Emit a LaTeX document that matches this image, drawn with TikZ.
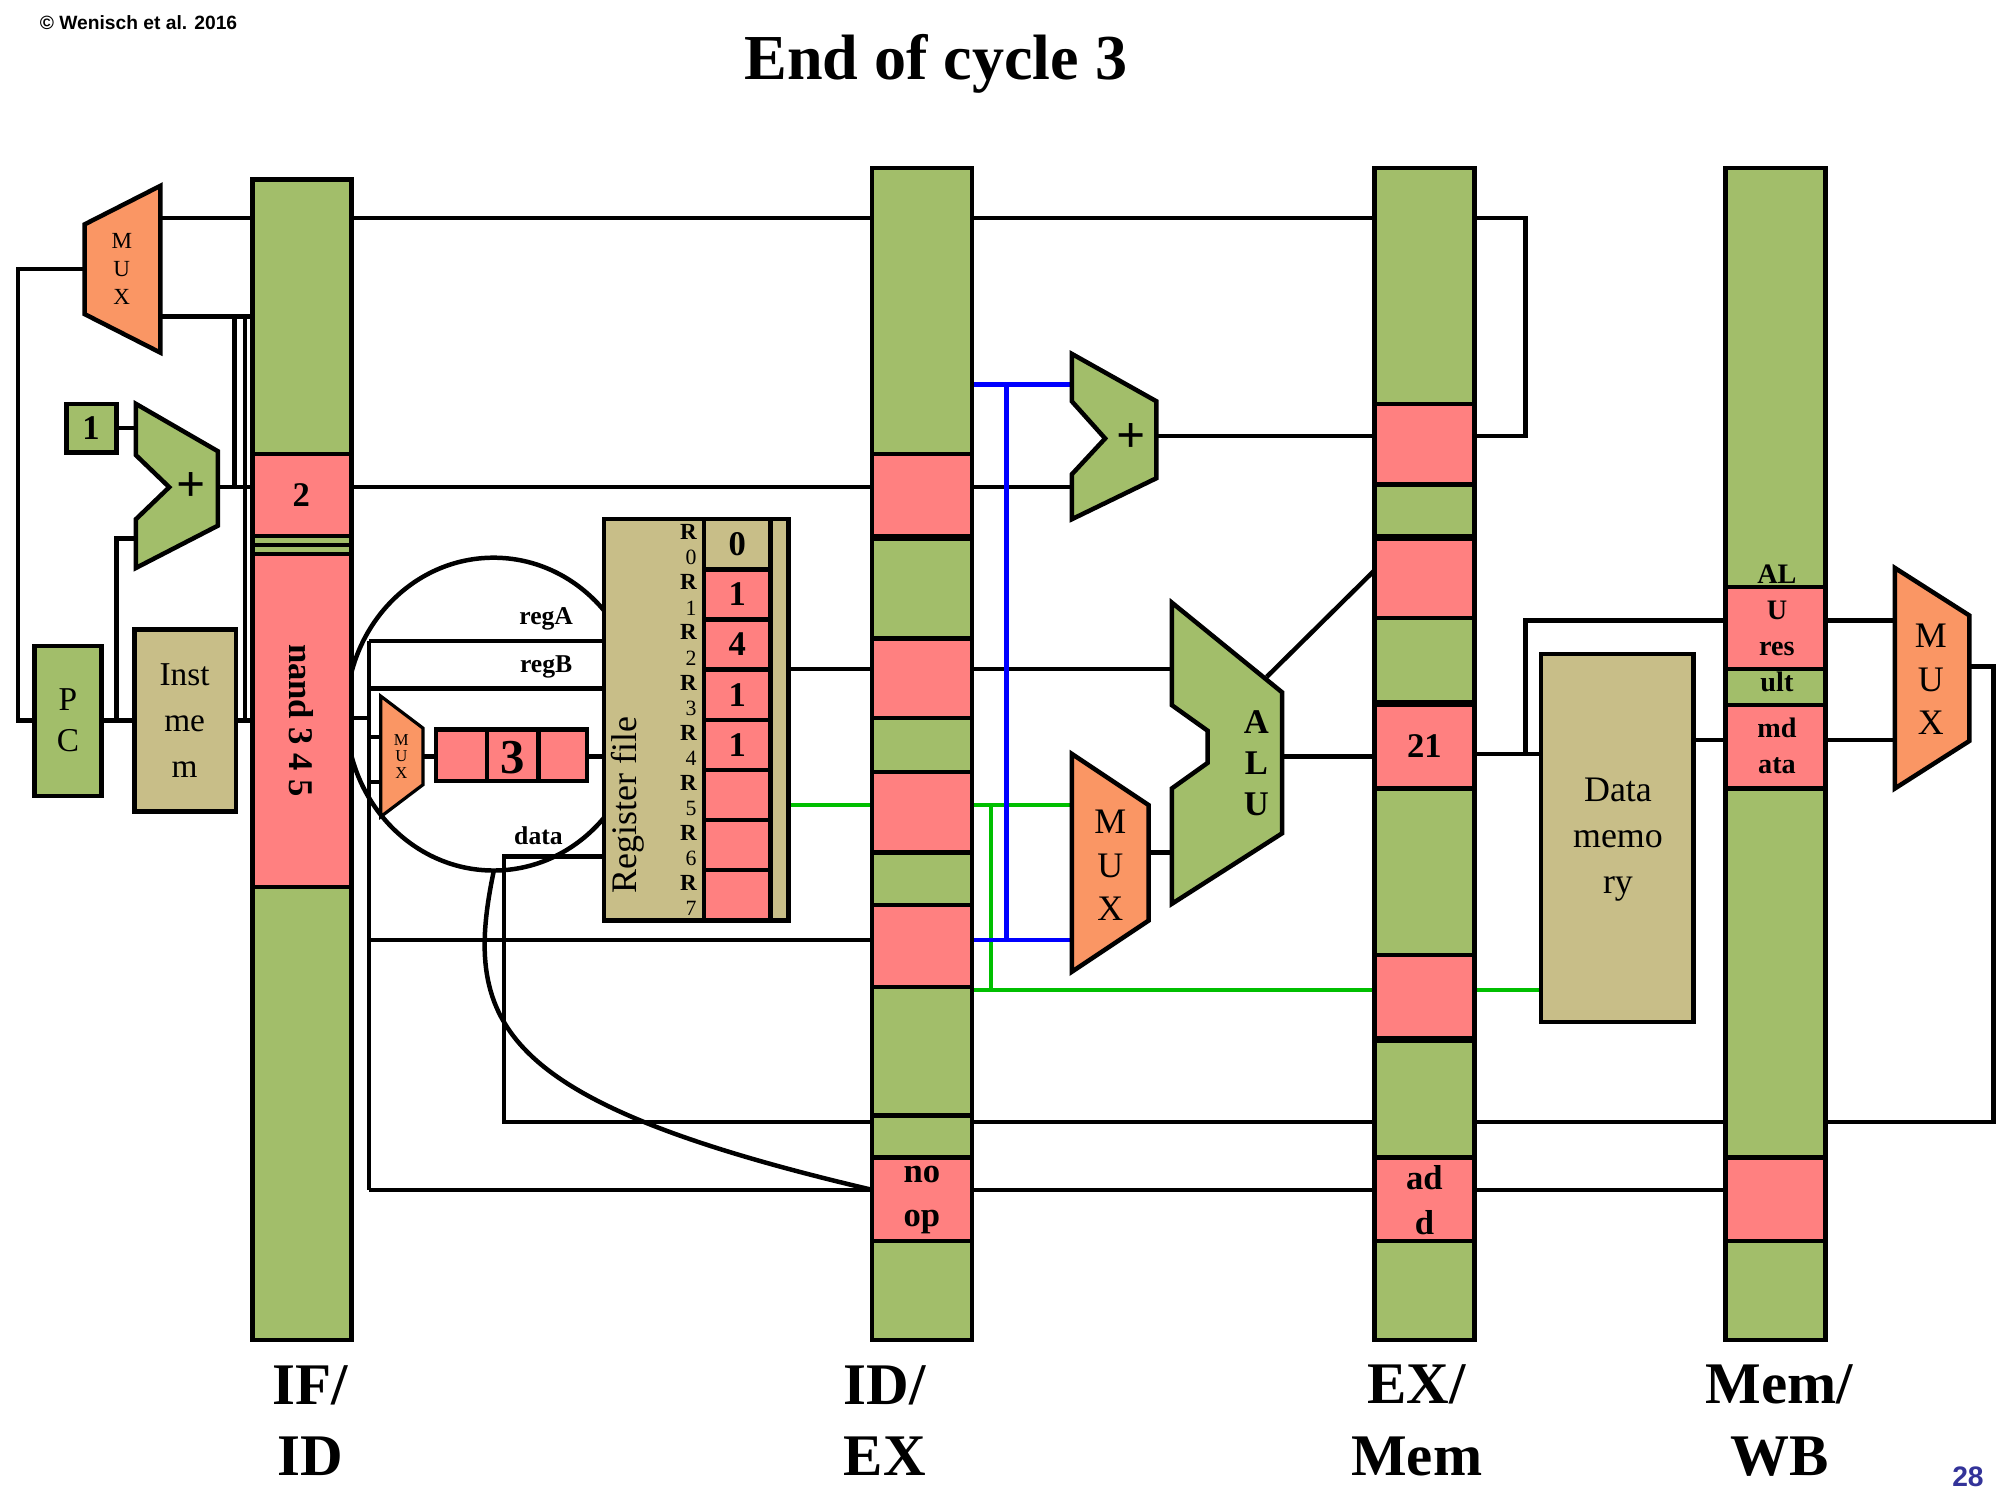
\documentclass[tikz,border=0pt]{standalone}
\usepackage{fontspec}
\setmainfont{Liberation Serif}
\newfontfamily\sans{Liberation Sans}
\begin{document}
\begin{tikzpicture}[x=1pt,y=-1pt,line width=3.5pt,
  lbl/.style={font=\fontsize{46}{50}\selectfont\bfseries,align=center},
  cell/.style={font=\fontsize{27}{29}\selectfont\bfseries,align=center},
  gw/.style={draw=green!75!black},
  bw/.style={draw=blue}]
\definecolor{grn}{RGB}{162,190,106}
\definecolor{pnk}{RGB}{255,128,128}
\definecolor{tan}{RGB}{200,190,136}
\definecolor{org}{RGB}{250,150,100}
\tikzset{gr/.style={fill=grn,draw=black},pk/.style={fill=pnk,draw=black},tn/.style={fill=tan,draw=black},og/.style={fill=org,draw=black}}
\useasboundingbox (0,0) rectangle (1560,1170);
\node[font=\sans\bfseries\fontsize{15}{16}\selectfont,anchor=west] at (26,18) {© Wenisch et al. 2016};
\node[font=\fontsize{50}{54}\selectfont\bfseries] at (730,50) {End of cycle 3};
\node[font=\sans\bfseries\fontsize{22}{24}\selectfont,text=blue!50!black!80] at (1535,1152) {28};
% wires (drawn first)
\draw (125,170) -- (1190,170) -- (1190,340) -- (1150,340);
\draw (902,340) -- (1072,340);
\draw (66,210) -- (14,210) -- (14,562) -- (27,562);
\draw (125,247) -- (197,247);
\draw (183,247) -- (183,380); \draw (191,247) -- (191,562);
\draw (170,380) -- (197,380);
\draw (91,334) -- (106,334);
\draw (79,562) -- (105,562); \draw (91,562) -- (91,420) -- (106,420);
\draw (184,562) -- (197,562);
\draw (274,380) -- (680,380); \draw (758,380) -- (836,380);
\draw (288,500) -- (471,500); \draw (288,537) -- (471,537);
\draw (288,500) -- (288,928);
\draw (288,733) -- (680,733); \draw (288,928) -- (680,928);
\draw (274,560) -- (288,560);
\draw (288,575) -- (297,575); \draw (288,610) -- (297,610);
\draw (330,590) -- (340,590); \draw (458,590) -- (471,590);
\draw (471,668) -- (393,668) -- (393,875) -- (1555,875) -- (1555,520) -- (1536,520);
\draw (385,680) .. controls (360,800) and (390,860) .. (680,928);
\draw (615,522) -- (680,522); \draw (758,522) -- (914,522);
\draw[gw] (615,628) -- (680,628); \draw[gw] (758,628) -- (836,628);
\draw[gw] (773,628) -- (773,772);
\draw[gw] (758,772) -- (1202,772);
\draw[bw] (758,300) -- (836,300); \draw[bw] (785,300) -- (785,733); \draw[bw] (758,733) -- (836,733);
\draw (896,665) -- (914,665);
\draw (1000,590) -- (1072,590); \draw (988,528) -- (1072,445);
\draw (1150,588) -- (1202,588); \draw (1190,588) -- (1190,484) -- (1346,484);
\draw (1424,484) -- (1478,484); \draw (1321,577) -- (1346,577); \draw (1424,577) -- (1478,577);
\draw (758,928) -- (1072,928); \draw (1150,928) -- (1346,928);
% circle
\draw (385,557) ellipse [x radius=115, y radius=122];
% pipeline registers
\draw[gr] (197,140) rectangle (274,1045);
\draw[pk] (197,354) rectangle (274,418); \node[cell] at (235,386) {2};
\draw (197,425) -- (274,425);
\draw[pk] (197,432) rectangle (274,692);
\node[cell,rotate=-90] at (235,562) {nand 3 4 5};
\draw[gr] (680,131) rectangle (758,1045);
\foreach \a/\b in {354/418,498/560,602/665,706/770} \draw[pk] (680,\a) rectangle (758,\b);
\draw (680,420) -- (758,420); \draw (680,870) -- (758,870); \draw (680,968)--(758,968);
\draw[pk] (680,903) rectangle (758,968); \node[cell] at (719,936) {no\\[6pt]op};
\draw[gr] (1072,131) rectangle (1150,1045);
\foreach \a/\b in {315/378,420/482,550/615,745/810,903/968} \draw[pk] (1072,\a) rectangle (1150,\b);
\draw (1072,418)--(1150,418); \draw (1072,548)--(1150,548); \draw (1072,812)--(1150,812);
\node[cell] at (1111,582) {21}; \node[cell] at (1111,936) {ad\\[6pt]d};
\draw[gr] (1346,131) rectangle (1424,1045);
\draw[pk] (1346,458) rectangle (1424,522); \draw[pk] (1346,550) rectangle (1424,615);
\draw[pk] (1346,903) rectangle (1424,968);
\node[font=\fontsize{22}{24}\selectfont\bfseries,align=center] at (1386,490) {AL\\[4pt]U\\[4pt]res\\[4pt]ult};
\node[font=\fontsize{22}{24}\selectfont\bfseries,align=center] at (1386,582) {md\\[4pt]ata};
\node[lbl] at (242,1108) {IF/\\[6pt]ID};
\node[lbl] at (690,1108) {ID/\\[6pt]EX};
\node[lbl] at (1105,1108) {EX/\\[6pt]Mem};
\node[lbl] at (1388,1108) {Mem/\\[6pt]WB};
% left parts
\draw[og] (66,175) -- (125,145) -- (125,275) -- (66,245) -- cycle;
\node[font=\fontsize{18}{22}\selectfont,align=center] at (95,210) {M\\U\\X};
\draw[gr] (27,504) rectangle (79,621); \node[font=\fontsize{26}{32}\selectfont,align=center] at (53,562) {P\\C};
\draw[tn] (105,491) rectangle (184,633); \node[font=\fontsize{26}{36}\selectfont,align=center] at (144,562) {Inst\\me\\m};
\draw[gr] (52,315) rectangle (91,353); \node[cell] at (71,334) {1};
\draw[gr] (106,315) -- (170,352) -- (170,410) -- (106,443) -- (106,405) -- (132,380) -- (106,355) -- cycle;
\node[font=\fontsize{40}{40}\selectfont\bfseries] at (149,380) {+};
\draw[gr] (836,276) -- (902,313) -- (902,373) -- (836,405) -- (836,370) -- (862,342) -- (836,313) -- cycle;
\node[font=\fontsize{40}{40}\selectfont\bfseries] at (882,342) {+};
\draw[gr] (914,470) -- (1000,540) -- (1000,650) -- (914,705) -- (914,615) -- (942,595) -- (942,570) -- (914,550) -- cycle;
\node[font=\fontsize{27}{32}\selectfont\bfseries,align=center] at (980,595) {A\\L\\U};
\draw[og] (836,588) -- (896,628) -- (896,718) -- (836,758) -- cycle;
\node[font=\fontsize{28}{34}\selectfont,align=center] at (866,675) {M\\U\\X};
\draw[og] (1478,443) -- (1536,480) -- (1536,578) -- (1478,615) -- cycle;
\node[font=\fontsize{28}{34}\selectfont,align=center] at (1506,530) {M\\U\\X};
\draw[og,line width=2.5pt] (297,543) -- (330,568) -- (330,612) -- (297,637) -- cycle;
\node[font=\fontsize{13}{13}\selectfont,align=center] at (313,590) {M\\U\\X};
\draw[pk] (340,569) rectangle (458,609); \draw (380,569)--(380,609); \draw (420,569)--(420,609);
\node[font=\fontsize{38}{38}\selectfont\bfseries] at (400,591) {3};
\node[font=\fontsize{20}{22}\selectfont\bfseries] at (426,483) {regA};
\node[font=\fontsize{20}{22}\selectfont\bfseries] at (426,520) {regB};
\node[font=\fontsize{20}{22}\selectfont\bfseries] at (420,652) {data};
% register file
\draw[tn] (471,405) rectangle (615,718);
\draw (601,405) -- (601,718);
\node[font=\fontsize{28}{30}\selectfont,rotate=90] at (490,628) {Register file};
\foreach \i/\v in {0/0,1/1,2/4,3/1,4/1,5/,6/,7/} {
  \pgfmathsetmacro\ya{405+\i*39.1}
  \pgfmathsetmacro\yb{405+(\i+1)*39.1}
  \ifnum\i=0 \draw[tn] (549,\ya) rectangle (601,\yb); \else \draw[pk] (549,\ya) rectangle (601,\yb); \fi
  \node[cell] at (575,\ya+19.5) {\v};
  \node[font=\fontsize{18}{18}\selectfont\bfseries] at (537,\ya+10) {R};
  \node[font=\fontsize{17}{18}\selectfont] at (539,\ya+30) {\i};
}
% data memory
\draw[tn] (1202,510) rectangle (1321,797);
\node[font=\fontsize{28}{36}\selectfont,align=center] at (1262,655) {Data\\memo\\ry};
\end{tikzpicture}
\end{document}
